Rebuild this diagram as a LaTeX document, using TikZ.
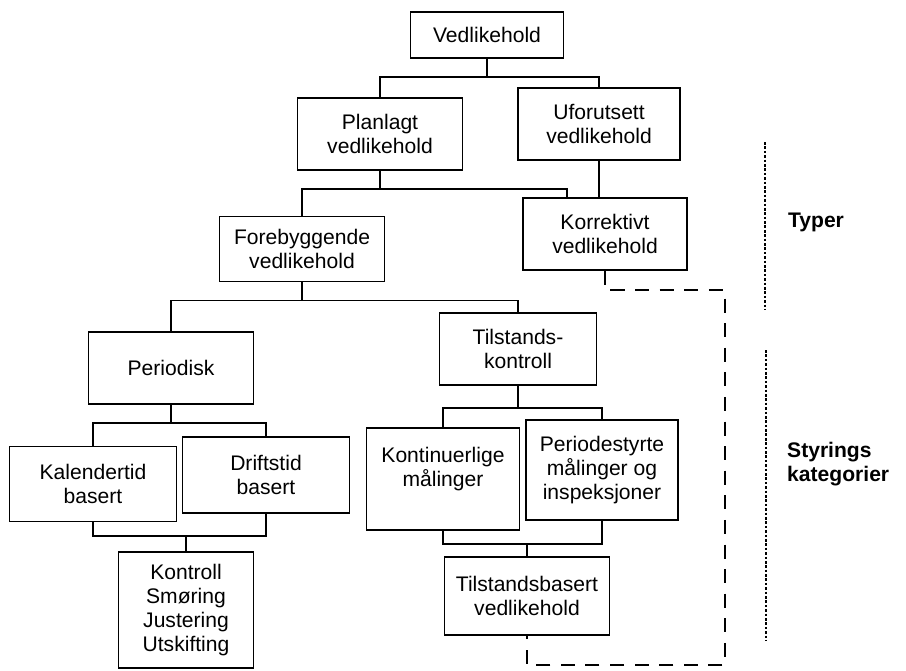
\documentclass[tikz,border=0pt]{standalone}
\usepackage{fontspec}
\setmainfont{Liberation Sans}
\usetikzlibrary{calc}

\tikzset{
    box/.style={draw, line width=1pt, align=center, minimum width=33mm, minimum height=14.4mm, inner sep=2pt, font=\fontsize{12}{13.5}\selectfont},
    link/.style={line width=1pt},
    feedback/.style={line width=1pt, dash pattern=on 8pt off 6pt},
    divider/.style={line width=0.8pt, dash pattern=on 1.5pt off 1pt},
    side/.style={font=\fontsize{12}{13.5}\selectfont\bfseries, align=left}
}

\begin{document}
\begin{tikzpicture}[x=0.2mm, y=-0.2mm]
        \useasboundingbox (0,0) rectangle (906,670);
        \node[box, minimum width=30.6mm, minimum height=9.2mm] (ved) at (487,35) {Vedlikehold};
        \node[box] (plan) at (380,134) {Planlagt\\vedlikehold};
        \node[box, minimum width=32.4mm] (ufo) at (599,124) {Uforutsett\\vedlikehold};
        \node[box, minimum height=13mm] (fore) at (302,249) {Forebyggende\\vedlikehold};
        \node[box, minimum width=32.8mm] (korr) at (605,234) {Korrektivt\\vedlikehold};
        \node[box] (peri) at (171,368) {Periodisk};
        \node[box, minimum width=31.4mm] (tils) at (518,349) {Tilstands-\\kontroll};
        \node[box, minimum width=33.4mm, minimum height=15mm] (kal) at (93,484) {Kalendertid\\basert};
        \node[box, minimum width=33.4mm, minimum height=15.2mm] (drift) at (266,475) {Driftstid\\basert};
        \node[box, minimum width=30.6mm, minimum height=20.4mm] (kont) at (443,479) {Kontinuerlige\\målinger\\\mbox{}};
        \node[box, minimum width=30.4mm, minimum height=20mm] (pers) at (602,470) {Periodestyrte\\målinger og\\inspeksjoner};
        \node[box, minimum width=27mm, minimum height=23.2mm] (utsk) at (186,610) {Kontroll\\Smøring\\Justering\\Utskifting};
        \node[box, minimum height=15.6mm] (tbv) at (527,596) {Tilstandsbasert\\vedlikehold};

        \draw[link] (ved.south) -- ++(0,18) coordinate (v1) (plan.north) |- (v1) -| (ufo.north);
        \draw[link] (plan.south) -- ++(0,18) coordinate (v2) (fore.north) |- (v2) -| ($(korr.north)+(-38,0)$);
        \draw[link] (ufo.south) -- (ufo.south |- korr.north);
        \draw[link] (fore.south) -- ++(0,18) coordinate (v3) (peri.north) |- (v3) -| (tils.north);
        \draw[link] (peri.south) -- ++(0,18) coordinate (v4) (kal.north) |- (v4) -| (drift.north);
        \draw[link] (utsk.north) -- ++(0,-15) coordinate (v5) (kal.south) |- (v5) -| (drift.south);
        \draw[link] (tils.south) -- ++(0,22) coordinate (v6) (kont.north) |- (v6) -| (pers.north);
        \draw[link] (tbv.north) -- ++(0,-12) coordinate (v7) (kont.south) |- (v7) -| (pers.south);

        \coordinate (dt) at (725,290);
        \coordinate (db) at (725,665);
        \draw[feedback] (korr.south) |- (dt) -- (db) -| (tbv.south);

        \coordinate (t1) at (765,142);
        \coordinate (t2) at (765,310);
        \coordinate (s1) at (766,350);
        \coordinate (s2) at (766,640);
        \draw[divider] (t1) -- (t2);
        \draw[divider] (s1) -- (s2);
        \node[side] (typer) at (816,222) {Typer};
        \node[side, anchor=west] (styr) at (781,464) {Styrings\\kategorier};
\end{tikzpicture}
\end{document}
